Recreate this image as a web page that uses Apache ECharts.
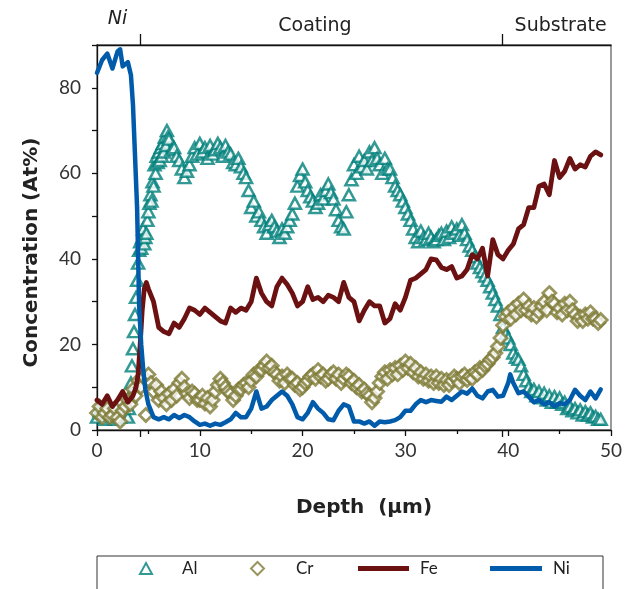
<!DOCTYPE html>
<html><head><meta charset="utf-8">
<script src="https://cdn.jsdelivr.net/npm/echarts@6/dist/echarts.min.js"></script>
<style>html,body{margin:0;padding:0;background:#fff}#c{width:629px;height:589px}</style>
</head><body><div id="c"></div>
<script>
// ---- data: [depth (µm), concentration (At%)] ----
const alPoints = [[0,3],[0.25,4.5],[0.5,4],[0.75,2.5],[1,3.5],[1.25,5],[1.5,3],[1.75,2.5],[2,4],[2.25,3],[2.5,4.5],[2.75,3.5],[3,3],[3.1,5],[3.2,8],[3.3,11],[3.4,15],[3.5,19],[3.6,23],[3.7,27],[3.8,31],[3.9,35],[4,39],[4.1,42],[4.2,44],[4.3,42.5],[4.4,45],[4.5,47],[4.6,43.5],[4.7,45],[4.8,46],[4.9,49],[5,51],[5.1,53],[5.2,55],[5.3,53.5],[5.4,58],[5.5,57],[5.6,62],[5.7,60],[5.8,64],[5.9,62.5],[6,65],[6.1,63],[6.2,66],[6.3,64],[6.4,67],[6.5,65],[6.6,68.5],[6.7,66.5],[6.8,70],[6.9,68.5],[7,68],[7.25,65.5],[7.5,66],[7.75,64],[8,63],[8.25,61],[8.5,59],[8.75,60.5],[9,62],[9.25,64],[9.5,66],[9.75,64.5],[10,67],[10.25,65],[10.5,66],[10.75,63.5],[11,66.5],[11.25,64.5],[11.5,65.5],[11.75,67],[12,66],[12.25,64],[12.5,66.5],[12.75,65],[13,64.5],[13.25,62.5],[13.5,62],[13.75,63.5],[14,61.5],[14.25,60],[14.5,59],[14.75,56],[15,52],[15.25,53.5],[15.5,50],[15.75,51],[16,49],[16.25,47.5],[16.5,46],[16.75,48],[17,49],[17.25,47.5],[17.5,46.5],[17.75,45],[18,47],[18.25,46],[18.5,47.5],[18.75,49],[19,50.5],[19.25,53],[19.5,57],[19.75,59.5],[20,61],[20.25,58],[20.5,56],[20.75,54.5],[21,53.5],[21.25,52],[21.5,53],[21.75,55],[22,54],[22.25,56],[22.5,57.5],[22.75,55.5],[23,54],[23.25,51.5],[23.5,49],[23.75,47.5],[24,47],[24.25,51],[24.5,55],[24.75,58.5],[25,62],[25.25,60],[25.5,64],[25.75,61.5],[26,63],[26.25,61],[26.5,65],[26.75,63],[27,66],[27.25,63.5],[27.5,62],[27.75,60],[28,63.5],[28.25,61],[28.5,61],[28.75,59],[29,57],[29.25,56],[29.5,55],[29.75,53.5],[30,52],[30.25,50.5],[30.5,49],[30.75,47],[31,45],[31.25,44],[31.5,46.5],[31.75,45],[32,44.5],[32.25,46],[32.5,45],[32.75,44],[33,44.5],[33.25,45.5],[33.5,46],[33.75,44.5],[34,46.5],[34.25,45],[34.5,47.5],[34.75,46],[35,47],[35.25,45.5],[35.5,48],[35.75,46],[36,44.5],[36.25,43],[36.5,42],[36.75,40.5],[37,39],[37.25,38],[37.5,37],[37.75,36],[38,35],[38.25,33.5],[38.5,32],[38.75,30.5],[39,29],[39.25,27],[39.5,24],[39.75,22.5],[40,21.5],[40.25,20],[40.5,18],[40.75,17],[41,16.5],[41.25,15],[41.5,13],[41.75,11.5],[42,10],[42.25,9],[42.5,9.5],[42.75,8],[43,9],[43.25,7.5],[43.5,8.6],[43.75,7],[44,8],[44.25,6.5],[44.5,7.8],[44.75,6.5],[45,7.5],[45.25,6],[45.5,6.5],[45.75,5],[46,5.5],[46.25,4.5],[46.5,5],[46.75,4],[47,4.7],[47.25,3.5],[47.5,4.3],[47.75,3.5],[48,4],[48.25,3],[48.5,3.2],[48.75,2.5],[49,2.5]];

const crPoints = [[0,4],[0.25,5.5],[0.5,3],[0.75,4],[1,5],[1.25,3],[1.5,3.5],[1.75,5],[2,3],[2.25,2],[2.5,4.5],[2.75,5.5],[3,7],[3.25,6],[3.5,9.5],[3.75,8],[4,11.5],[4.25,10],[4.5,12.5],[4.75,3.5],[5,13],[5.25,11],[5.5,9],[5.75,10.5],[6,7],[6.25,9],[6.5,7.5],[6.75,6],[7,8.5],[7.25,7],[7.5,9.5],[7.75,8],[8,11],[8.25,12],[8.5,10],[8.75,8.5],[9,7.5],[9.25,9],[9.5,8.5],[9.75,7],[10,7],[10.25,8],[10.5,6.2],[10.75,7.5],[11,5.5],[11.25,7],[11.5,9],[11.75,10.5],[12,12],[12.25,11],[12.5,10],[12.75,9],[13,8.5],[13.25,7],[13.5,8],[13.75,9.5],[14,9.5],[14.25,10.5],[14.5,11],[14.75,10],[15,11.5],[15.25,13],[15.5,12.5],[15.75,14],[16,14],[16.25,15],[16.5,16],[16.75,14.5],[17,15],[17.25,13.5],[17.5,13],[17.75,11.5],[18,12.5],[18.25,11],[18.5,13],[18.75,12],[19,12],[19.25,10.5],[19.5,11],[19.75,9.5],[20,10],[20.25,11],[20.5,11.5],[20.75,12.5],[21,13],[21.25,12],[21.5,14],[21.75,12.5],[22,13],[22.25,11.5],[22.5,12],[22.75,13],[23,13.5],[23.25,12],[23.5,13],[23.75,11],[24,12],[24.25,13],[24.5,12.5],[24.75,11],[25,11.5],[25.25,10],[25.5,10.5],[25.75,9],[26,9.5],[26.25,8.5],[26.5,8],[26.75,6.5],[27,7.5],[27.25,9],[27.5,11],[27.75,12.5],[28,13.5],[28.25,12],[28.5,14],[28.75,13],[29,14.5],[29.25,13],[29.5,15],[29.75,14],[30,16],[30.25,14.5],[30.5,15.5],[30.75,13.5],[31,14.5],[31.25,12.5],[31.5,13.5],[31.75,12],[32,13],[32.25,11.5],[32.5,12.5],[32.75,11],[33,12.5],[33.25,11],[33.5,12],[33.75,10.5],[34,11.7],[34.25,10.5],[34.5,11.5],[34.75,12.5],[35,12],[35.25,11],[35.5,12.5],[35.75,13],[36,11.7],[36.25,12.5],[36.5,12],[36.75,13.5],[37,13],[37.25,14.5],[37.5,14],[37.75,15],[38,15.5],[38.25,16.5],[38.5,17],[38.75,18],[39,19.5],[39.25,21.5],[39.5,24.5],[39.75,26.5],[40,27.5],[40.25,26],[40.5,28.5],[40.75,27],[41,29.5],[41.25,28],[41.5,30.5],[41.75,28],[42,29],[42.25,27],[42.5,28.5],[42.75,26.5],[43,27.5],[43.25,29],[43.5,30],[43.75,28],[44,32],[44.25,30],[44.5,29.5],[44.75,27.5],[45,28.5],[45.25,27],[45.5,29.5],[45.75,28],[46,30],[46.25,28],[46.5,27],[46.75,25.5],[47,26.5],[47.25,25.5],[47.5,27],[47.75,26],[48,27.5],[48.25,26],[48.5,26],[48.75,25],[49,25.7]];

const fePoints = [[0,7],[0.5,6],[1,8],[1.5,5.5],[2,7],[2.5,9],[3,6.5],[3.5,8],[3.8,10],[4,13],[4.2,20],[4.4,28],[4.6,33],[4.8,34.5],[5,33],[5.5,30],[6,24],[6.5,23],[7,22.5],[7.5,25],[8,24],[8.5,26],[9,28.5],[9.5,28],[10,27],[10.5,28.5],[11,27.5],[11.5,26.5],[12,25.5],[12.5,25],[13,28.5],[13.5,27.5],[14,28.5],[14.5,28],[15,30],[15.5,35.5],[16,32],[16.5,30],[17,29],[17.5,33.5],[18,35.5],[18.5,34],[19,32],[19.5,29],[20,30],[20.5,33.5],[21,30.5],[21.5,31],[22,30],[22.5,31.5],[23,31],[23.5,30],[24,34.5],[24.5,31],[25,30],[25.5,25.5],[26,28],[26.5,30],[27,29],[27.5,29],[28,25],[28.5,26],[29,29.5],[29.5,28],[30,31],[30.5,35],[31,35.5],[31.5,36.5],[32,37.5],[32.5,40],[33,39.8],[33.5,38],[34,37.5],[34.5,38.2],[35,35.5],[35.5,36],[36,37.5],[36.5,41],[37,40],[37.5,42.5],[38,36],[38.5,44.5],[39,41],[39.5,40],[40,42],[40.5,43.5],[41,47],[41.5,48],[42,52],[42.5,52],[43,57],[43.5,57.5],[44,55],[44.5,63],[45,59],[45.5,60.5],[46,63.5],[46.5,61],[47,62],[47.5,61.5],[48,64],[48.5,65],[49,64.3]];

const niPoints = [[0,83.5],[0.5,86.5],[1,88],[1.5,84.5],[2,88.5],[2.25,89],[2.5,85],[3,86],[3.3,83],[3.5,76],[3.7,64],[3.9,52],[4.1,29],[4.3,20],[4.5,14],[4.7,9.5],[5,6],[5.5,3],[6,2.5],[6.5,3],[7,2.5],[7.5,3.5],[8,2.8],[8.5,3.5],[9,3],[9.5,2],[10,1.2],[10.5,1.5],[11,1],[11.5,1.5],[12,1.2],[12.5,1.8],[13,2.5],[13.5,4],[14,3],[14.5,3],[15,5],[15.5,9],[16,5],[16.5,5.5],[17,7],[17.5,8],[18,9],[18.5,8],[19,6],[19.5,3],[20,2.5],[20.5,4],[21,6.5],[21.5,5],[22,4],[22.5,2.5],[23,2.3],[23.5,4.5],[24,6],[24.5,5.5],[25,2],[25.5,2],[26,1.5],[26.5,2],[27,1],[27.5,2],[28,1.8],[28.5,2],[29,2.3],[29.5,3],[30,4.5],[30.5,4.5],[31,6],[31.5,7],[32,6.5],[32.5,7],[33,6.8],[33.5,6.6],[34,7.8],[34.5,7],[35,8],[35.5,9],[36,8.5],[36.5,9.7],[37,8],[37.5,7.4],[38,9],[38.5,9.4],[39,7.8],[39.5,8],[40,11],[40.2,13],[40.5,11],[41,8.6],[41.5,9],[42,7.8],[42.5,6.5],[43,7],[43.5,6],[44,6.5],[44.5,5.5],[45,6.3],[45.5,6],[46,7],[46.5,9.4],[47,8],[47.5,7],[48,9],[48.5,7.4],[49,9.5]];

const yLabelValues = [0,20,40,60,80];
const sectionPos = [2, 21.2, 45.1];
const sectionNames = ['Ni', 'Coating', 'Substrate'];
const boundaryPos = [4.2, 39.4];

// ---- styles ----
const TEAL = '#00807A', OLIVE = '#7E7A36', FE = '#6B1111', NI = '#005BAB';
const TITLE_FONT = 'DejaVu Sans', NUM_FONT = 'Lato';
const axisLineStyle = {color:'#111', width:1.3};
const legendText = {fontFamily:NUM_FONT, fontSize:17, color:'#222'};

const chart = echarts.init(document.getElementById('c'), null, {renderer:'canvas'});
const option = {
  animation: false,
  backgroundColor: '#fff',
  grid: {left:97, right:18, top:45, bottom:159, show:true, borderColor:'#666', borderWidth:1.3, backgroundColor:'transparent'},
  xAxis: [
    {type:'value', min:0, max:50, interval:10, position:'bottom',
     axisLine:{onZero:false, lineStyle:axisLineStyle},
     axisTick:{length:6, lineStyle:axisLineStyle},
     minorTick:{show:true, splitNumber:2, length:4, lineStyle:axisLineStyle},
     splitLine:{show:false},
     axisLabel:{fontFamily:NUM_FONT, fontSize:19, color:'#333', margin:11},
     name:'Depth  (\u03bcm)', nameLocation:'middle', nameGap:68,
     nameTextStyle:{fontFamily:TITLE_FONT, fontWeight:'bold', fontSize:20, color:'#222', padding:[0,0,0,20]}},
    {type:'value', min:0, max:50, position:'top',
     axisLine:{show:true, onZero:false, lineStyle:axisLineStyle},
     axisTick:{show:true, customValues:boundaryPos, length:11, lineStyle:axisLineStyle},
     splitLine:{show:false},
     axisLabel:{show:true, customValues:sectionPos, margin:9,
       formatter:(v)=>{const i=sectionPos.indexOf(v); if(i<0) return ''; return i===0 ? '{it|'+sectionNames[i]+'}' : '{n|'+sectionNames[i]+'}';},
       rich:{it:{fontFamily:TITLE_FONT, fontSize:19, fontStyle:'italic', color:'#222', padding:[0,0,7,0]},
             n:{fontFamily:TITLE_FONT, fontSize:19, color:'#222'}}}},
    {type:'value', min:0, max:50, position:'top',
     axisLine:{show:false},
     axisTick:{show:true, inside:true, customValues:boundaryPos, length:7, lineStyle:axisLineStyle},
     splitLine:{show:false}, axisLabel:{show:false}}
  ],
  yAxis: [
    {type:'value', min:0, max:90, interval:10,
     axisLine:{show:true, onZero:false, lineStyle:axisLineStyle},
     axisTick:{show:true, length:5, lineStyle:axisLineStyle},
     splitLine:{show:false},
     axisLabel:{fontFamily:NUM_FONT, fontSize:19, color:'#333', margin:16,
       formatter:(v)=> yLabelValues.indexOf(v) >= 0 ? String(v) : ''},
     name:'Concentration (At%)', nameLocation:'middle', nameGap:55,
     nameTextStyle:{fontFamily:TITLE_FONT, fontWeight:'bold', fontSize:20, color:'#222', padding:[0,30,0,0]}}
  ],
  legend: [
    {data:[{name:'Al', icon:'triangle'}], left:139, top:560, padding:0, itemWidth:12, itemHeight:11,
     textStyle:Object.assign({padding:[0,0,0,25]}, legendText)},
    {data:[{name:'Cr', icon:'diamond'}], left:250, top:560, padding:0, itemWidth:13, itemHeight:13,
     textStyle:Object.assign({padding:[0,0,0,27]}, legendText)},
    {data:[{name:'Fe', icon:'rect'}], left:358, top:560, padding:0, itemWidth:51, itemHeight:5,
     textStyle:Object.assign({padding:[0,0,0,6]}, legendText)},
    {data:[{name:'Ni', icon:'rect'}], left:490, top:560, padding:0, itemWidth:52, itemHeight:5,
     textStyle:Object.assign({padding:[0,0,0,6]}, legendText)}
  ],
  graphic: [
    {type:'rect', shape:{x:97, y:556, width:506, height:60}, style:{fill:'none', stroke:'#333', lineWidth:1}, silent:true}
  ],
  series: [
    {name:'Al', type:'scatter', data:alPoints, symbol:'triangle', symbolSize:[12,11],
     itemStyle:{color:'#fff', borderColor:TEAL, borderWidth:2.5}},
    {name:'Cr', type:'scatter', data:crPoints, symbol:'diamond', symbolSize:13,
     itemStyle:{color:'#fff', borderColor:OLIVE, borderWidth:2.8}},
    {name:'Fe', type:'line', data:fePoints, symbol:'none', color:FE,
     lineStyle:{color:FE, width:4.8, join:'round', cap:'round'}},
    {name:'Ni', type:'line', data:niPoints, symbol:'none', color:NI,
     lineStyle:{color:NI, width:4.5, join:'round', cap:'round'}}
  ]
};
chart.setOption(option);
</script>
</body></html>
